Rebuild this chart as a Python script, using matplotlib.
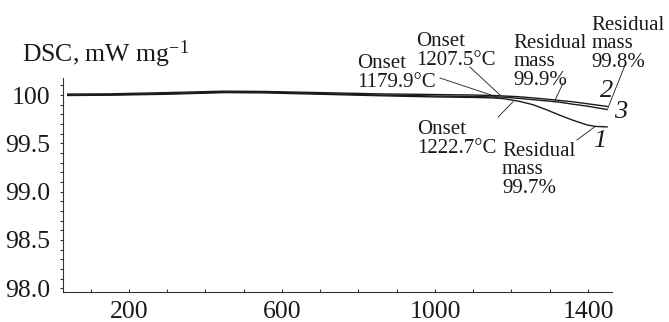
import numpy as np
import matplotlib
matplotlib.use("Agg")
import matplotlib.pyplot as plt
from matplotlib.ticker import MultipleLocator, FixedLocator, FixedFormatter

plt.rcParams['font.family'] = ['Liberation Serif', 'DejaVu Serif']
plt.rcParams['mathtext.fontset'] = 'custom'
plt.rcParams['mathtext.rm'] = 'Liberation Serif'
plt.rcParams['mathtext.it'] = 'Liberation Serif:italic'

# temperature, deg C
temp = [40, 150, 300, 450, 550, 700, 850, 1000, 1100, 1150, 1180,
        1220, 1256, 1290, 1327, 1360, 1398, 1420, 1450]
# three samples
curve1 = [99.995, 99.998, 100.008, 100.025, 100.022, 100.008, 99.993, 99.98, 99.975, 99.97, 99.962,
          99.935, 99.90, 99.85, 99.79, 99.74, 99.69, 99.675, 99.67]
curve2 = [100.01, 100.012, 100.025, 100.04, 100.037, 100.025, 100.012, 100.005, 100.0, 99.995, 99.99,
          99.982, 99.97, 99.958, 99.943, 99.93, 99.91, 99.898, 99.882]
curve3 = [100.0, 100.003, 100.015, 100.03, 100.03, 100.015, 100.0, 99.99, 99.985, 99.98, 99.978,
          99.965, 99.952, 99.94, 99.925, 99.905, 99.885, 99.87, 99.85]

yticks = [98.0, 98.5, 99.0, 99.5, 100.0]
ytick_labels = ['98.0', '98.5', '99.0', '99.5', '100']
xticks = [200, 600, 1000, 1400]

ink = '#1a1a1a'

fig = plt.figure(figsize=(6.69, 3.22), dpi=100)
ax = fig.add_axes([63/669, 1 - 291.7/322, (612 - 63)/669, (291.7 - 78)/322])

for c in (curve1, curve3, curve2):
    ax.plot(temp, c, color=ink, lw=1.0)

ax.set_xlim(27.5, 1462.8)
ax.set_ylim(97.965, 100.176)

ax.spines['top'].set_visible(False)
ax.spines['right'].set_visible(False)
for s in ('left', 'bottom'):
    ax.spines[s].set_linewidth(0.8)
    ax.spines[s].set_color('#333333')

ax.xaxis.set_major_locator(FixedLocator(xticks))
ax.xaxis.set_minor_locator(MultipleLocator(100))
ax.yaxis.set_major_locator(FixedLocator(yticks))
ax.yaxis.set_major_formatter(FixedFormatter(ytick_labels))
ax.yaxis.set_minor_locator(MultipleLocator(0.1))
ax.tick_params(axis='x', which='both', direction='in', length=2.5, width=0.8,
               labelsize=18.5, pad=7, colors='#333333', labelcolor=ink)
ax.tick_params(axis='y', which='both', direction='out', length=2.5, width=0.8,
               labelsize=18.5, pad=7, colors='#333333', labelcolor=ink)

fig.text(22/669, 1 - 62/322, r'DSC, mW mg$^{\mathrm{-1}}$', fontsize=18.5,
         color=ink, va='baseline', ha='left')

# annotations (anchored at the baseline of the last line)
fs = 15
ls = 0.98
notes = [('Onset\n1207.5°C', 950, 100.310),
         ('Onset\n1179.9°C', 796, 100.083),
         ('Residual\nmass\n99.9%', 1206, 100.103),
         ('Residual\nmass\n99.8%', 1410, 100.290),
         ('Onset\n1222.7°C', 953, 99.400),
         ('Residual\nmass\n99.7%', 1175, 98.986)]
for txt, x, y in notes:
    ax.text(x, y, txt, fontsize=fs, color=ink, va='baseline', linespacing=ls,
            clip_on=False)

# leader lines
leaders = [((1013, 100.176), (1162, 99.98)),
           ((1091, 100.29), (1170, 100.0)),
           ((1165, 99.772), (1204, 99.93)),
           ((1335, 100.124), (1314, 99.948)),
           ((1497, 100.31), (1452, 99.865)),
           ((1371, 99.534), (1418, 99.672))]
for (x0, y0), (x1, y1) in leaders:
    ax.plot([x0, x1], [y0, y1], color=ink, lw=0.6, clip_on=False)

# curve numbers
for lab, x, y in [('2', 1449, 99.979), ('3', 1486, 99.762), ('1', 1431, 99.462)]:
    ax.text(x, y, lab, fontsize=19, style='italic', color=ink, ha='center',
            va='baseline', clip_on=False)

fig.savefig('out.png', dpi=100)
